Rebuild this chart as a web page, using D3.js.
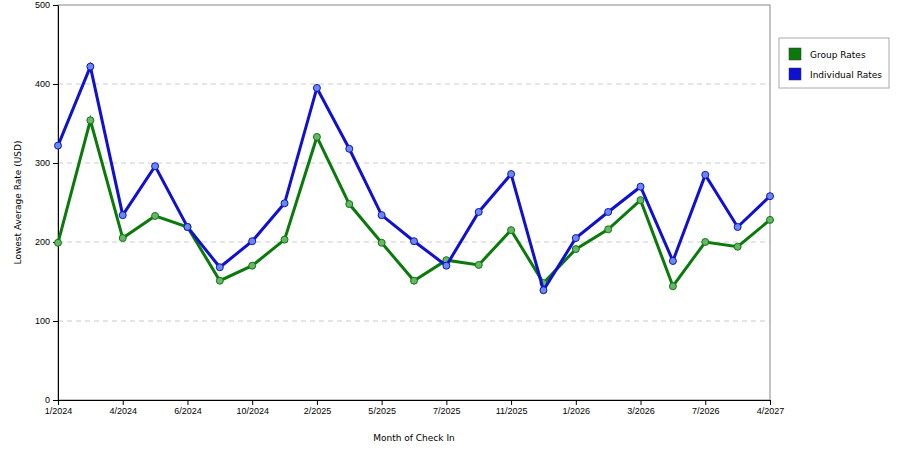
<!DOCTYPE html>
<html>
<head>
<meta charset="utf-8">
<script src="https://cdn.jsdelivr.net/npm/d3@7"></script>
<style>
body { margin: 0; background: #fff; font-family: "DejaVu Sans", sans-serif; }
</style>
</head>
<body>
<svg id="chart" width="900" height="450"></svg>
<script>
const months = ["1/2024", "3/2024", "4/2024", "5/2024", "6/2024", "8/2024", "10/2024", "12/2024",
    "2/2025", "3/2025", "5/2025", "6/2025", "7/2025", "9/2025", "11/2025", "12/2025",
    "1/2026", "2/2026", "3/2026", "5/2026", "7/2026", "9/2026", "4/2027"];
const groupRates = [199, 354, 205, 233, 219, 151, 170, 203, 333, 248, 199, 151, 177, 171, 215, 148,
    191, 216, 253, 144, 200, 194, 228];
const individualRates = [322, 422, 234, 296, 219, 168, 201, 249, 395, 318, 234, 201, 170, 238, 286, 139,
    205, 238, 270, 176, 285, 219, 258];
const yTicks = [0, 100, 200, 300, 400, 500];

const svg = d3.select("#chart");
const plotLeft = 58, plotRight = 770, plotTop = 5, plotBottom = 400;

const x = d3.scalePoint().domain(months).range([plotLeft, plotRight]);
const y = d3.scaleLinear().domain([0, 500]).range([plotBottom, plotTop]);

// gridlines
svg.append("g").selectAll("line")
    .data(yTicks.filter(t => t > 0 && t < 500))
    .enter().append("line")
    .attr("x1", plotLeft).attr("x2", plotRight)
    .attr("y1", d => y(d)).attr("y2", d => y(d))
    .attr("stroke", "#ccc").attr("stroke-dasharray", "5,4");

// frame
svg.append("rect")
    .attr("x", plotLeft).attr("y", plotTop)
    .attr("width", plotRight - plotLeft).attr("height", plotBottom - plotTop)
    .attr("fill", "none").attr("stroke", "#888");

// axes
svg.append("g")
    .attr("transform", `translate(0,${plotBottom})`)
    .call(d3.axisBottom(x).tickValues(months.filter((d, i) => i % 2 === 0)).tickSize(5).tickSizeOuter(0))
    .call(g => g.selectAll("text").attr("font-size", 9).attr("fill", "#000"))
    .call(g => g.select(".domain").attr("stroke", "#000"));

svg.append("g")
    .attr("transform", `translate(${plotLeft},0)`)
    .call(d3.axisLeft(y).tickValues(yTicks).tickSize(5).tickSizeOuter(0))
    .call(g => g.selectAll("text").attr("font-size", 9).attr("fill", "#000"))
    .call(g => g.select(".domain").attr("stroke", "#000"));

// axis labels
svg.append("text")
    .attr("x", (plotLeft + plotRight) / 2).attr("y", 441)
    .attr("text-anchor", "middle").attr("font-size", 9)
    .text("Month of Check In");

svg.append("text")
    .attr("transform", "rotate(-90)")
    .attr("x", -(plotTop + plotBottom) / 2).attr("y", 21)
    .attr("text-anchor", "middle").attr("font-size", 9)
    .text("Lowest Average Rate (USD)");

const line = d3.line().x((d, i) => x(months[i])).y(d => y(d));

function drawSeries(values, color, light) {
    svg.append("path")
        .datum(values)
        .attr("fill", "none")
        .attr("stroke", color)
        .attr("stroke-width", 3)
        .attr("d", line);
    svg.append("g").selectAll("circle")
        .data(values)
        .enter().append("circle")
        .attr("cx", (d, i) => x(months[i]))
        .attr("cy", d => y(d))
        .attr("r", 3.5)
        .attr("fill", light)
        .attr("stroke", color)
        .attr("stroke-width", 1);
}

drawSeries(groupRates, "#0a7a0a", "#6ab36a");
drawSeries(individualRates, "#1010d0", "#6a8ae8");

// legend
const legend = svg.append("g").attr("transform", "translate(779,38)");
legend.append("rect")
    .attr("width", 110).attr("height", 50)
    .attr("fill", "#fff").attr("stroke", "#aaa");
const legendData = [
    { name: "Group Rates", color: "#0a7a0a" },
    { name: "Individual Rates", color: "#1010d0" }
];
const items = legend.selectAll(".item")
    .data(legendData)
    .enter().append("g")
    .attr("transform", (d, i) => `translate(10,${10 + i * 20})`);
items.append("rect")
    .attr("width", 12).attr("height", 12)
    .attr("fill", d => d.color).attr("stroke", "#333").attr("stroke-width", 0.5);
items.append("text")
    .attr("x", 21).attr("y", 10)
    .attr("font-size", 9)
    .text(d => d.name);
</script>
</body>
</html>
